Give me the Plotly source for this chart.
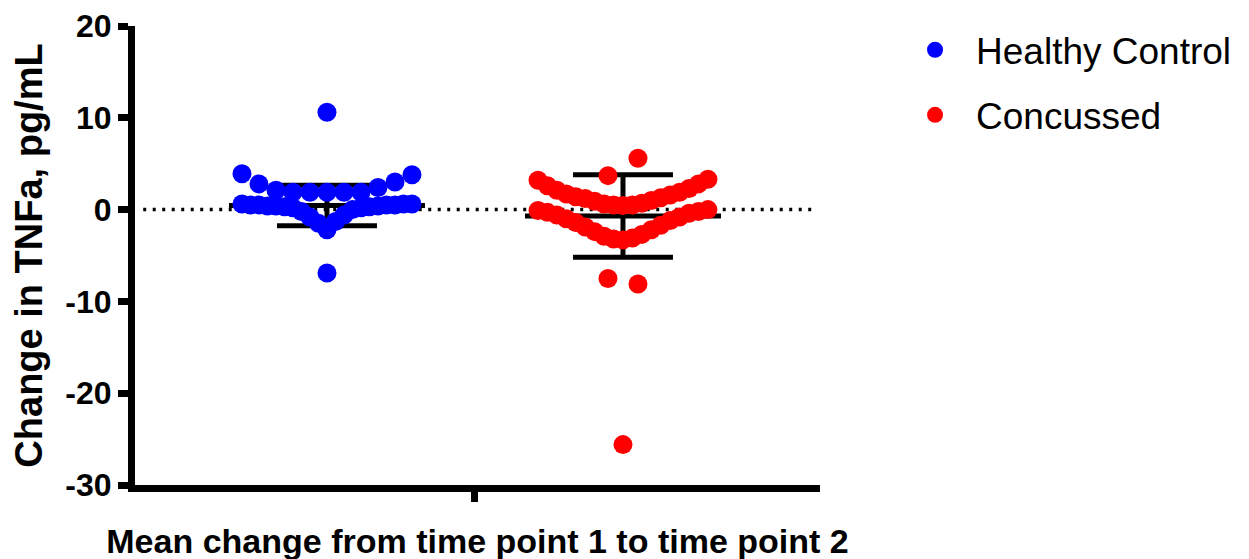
import plotly.graph_objects as go

# ---------------- data ----------------
group_names = ["Healthy Control", "Concussed"]
group_pos = [1, 2]
group_colors = ["#0000FF", "#FF0000"]

# Healthy Control: change in TNFa (pg/mL), clustered as drawn
hc_top = [10.6]
hc_upper_arc = [1.9, 1.9, 1.9, 1.9, 1.9, 2.1, 2.4, 2.8, 3.0, 3.9, 3.8]
hc_lower_arc = [-2.2, -1.5, -1.3, -0.8, -0.6, -0.2, 0.0, 0.2, 0.2, 0.3, 0.3,
                0.4, 0.4, 0.4, 0.5, 0.5, 0.5, 0.5, 0.6, 0.6, 0.6]
hc_bottom = [-6.9]

# Concussed: change in TNFa (pg/mL), clustered as drawn
cc_top_pair = [3.7, 5.6]
cc_upper_arc = [0.45, 0.5, 0.5, 0.6, 0.7, 0.9, 1.0, 1.2, 1.3, 1.4, 1.6, 1.7,
                1.9, 2.1, 2.3, 2.6, 2.8, 3.2, 3.3]
cc_lower_arc = [-3.3, -3.2, -3.1, -2.9, -2.7, -2.4, -2.2, -1.9, -1.7, -1.4,
                -1.2, -1.0, -0.8, -0.6, -0.4, -0.3, -0.2, -0.1, 0.0]
cc_low_pair = [-7.5, -8.1]
cc_bottom = [-25.6]

group_mean = [0.45, -0.7]
group_sd = [2.2, 4.5]

y_ticks = [-30, -20, -10, 0, 10, 20]
y_tick_labels = ["-30", "-20", "-10", "0", "10", "20"]

# ---------------- styles ----------------
W, H = 1249, 559
M_L, M_R, M_T, M_B = 127, 437, 18, 82
X_RANGE = [0.3514, 2.6656]
plot_w = W - M_L - M_R
px = (X_RANGE[1] - X_RANGE[0]) / plot_w   # data units per pixel

hc_clusters = [(hc_top, 0), (hc_upper_arc, 17), (hc_lower_arc, 8.5), (hc_bottom, 0)]
cc_clusters = [(cc_top_pair, 30), (cc_upper_arc, 9.44), (cc_lower_arc, 9.44),
               (cc_low_pair, 30), (cc_bottom, 0)]
MEAN_HALF_PX = 98
CAP_HALF_PX = 50
MARKER_SIZE = 19
FONT = "Liberation Sans, Arial, sans-serif"


def spread(values, spacing_px):
    """Place values alternately left/right of the centre, in list order."""
    n = len(values)
    offs = []
    for i in range(n):
        if n % 2 == 1:
            k = (i + 1) // 2
            k = -k if i % 2 == 1 else k
        else:
            k = i // 2 + 0.5
            k = -k if i % 2 == 0 else k
        offs.append(k * spacing_px * px)
    return offs


fig = go.Figure()

# mean and SD bars
for pos, m, sd in zip(group_pos, group_mean, group_sd):
    xs, ys = [], []
    mh, ch = MEAN_HALF_PX * px, CAP_HALF_PX * px
    xs += [pos - mh, pos + mh, None]
    ys += [m, m, None]
    for v in (m + sd, m - sd):
        xs += [pos - ch, pos + ch, None]
        ys += [v, v, None]
    xs += [pos, pos, None]
    ys += [m - sd, m + sd, None]
    fig.add_trace(go.Scatter(x=xs, y=ys, mode="lines", showlegend=False,
                             line=dict(color="black", width=5), hoverinfo="skip"))

# points
for name, pos, color, clusters in zip(group_names, group_pos, group_colors,
                                      [hc_clusters, cc_clusters]):
    xs, ys = [], []
    for vals, sp in clusters:
        for v, o in zip(vals, spread(vals, sp)):
            xs.append(pos + o)
            ys.append(v)
    fig.add_trace(go.Scatter(x=xs, y=ys, mode="markers", name=name,
                             legendgroup=name,
                             marker=dict(color=color, size=MARKER_SIZE,
                                         line=dict(width=0))))

# zero reference line
fig.add_shape(type="line", xref="paper", yref="y", x0=0.012, x1=0.99, y0=0, y1=0,
              line=dict(color="black", width=3.5, dash="3px,6.5px"), layer="below")

fig.update_layout(
    width=W, height=H,
    margin=dict(l=M_L, r=M_R, t=M_T, b=M_B),
    plot_bgcolor="white", paper_bgcolor="white",
    font=dict(family=FONT, color="black"),
    legend=dict(xref="container", yref="container",
                x=0.7094, y=0.98, xanchor="left", yanchor="top",
                font=dict(size=37, family=FONT, color="black"),
                traceorder="grouped", tracegroupgap=14, itemwidth=72,
                bgcolor="rgba(0,0,0,0)"),
    xaxis=dict(range=X_RANGE, showgrid=False, zeroline=False, automargin=False,
               showline=True, linecolor="black", linewidth=7,
               tickvals=[1.5], ticktext=[""], ticks="outside",
               ticklen=10, tickwidth=7, tickcolor="black",
               title=dict(text="Mean change from time point 1 to time point 2",
                          font=dict(size=34, family=FONT, weight="bold"),
                          standoff=28)),
    yaxis=dict(range=[-30, 20], showgrid=False, zeroline=False, automargin=False,
               showline=True, linecolor="black", linewidth=7,
               tickvals=y_ticks, ticktext=y_tick_labels,
               ticks="outside", ticklen=10, tickwidth=7,
               tickcolor="black", ticklabeloverflow="allow",
               tickfont=dict(size=32, family=FONT, weight="bold"),
               title=dict(text="Change in TNFa, pg/mL",
                          font=dict(size=38, family=FONT, weight="bold"),
                          standoff=14)),
)

fig.write_html("out.html")
